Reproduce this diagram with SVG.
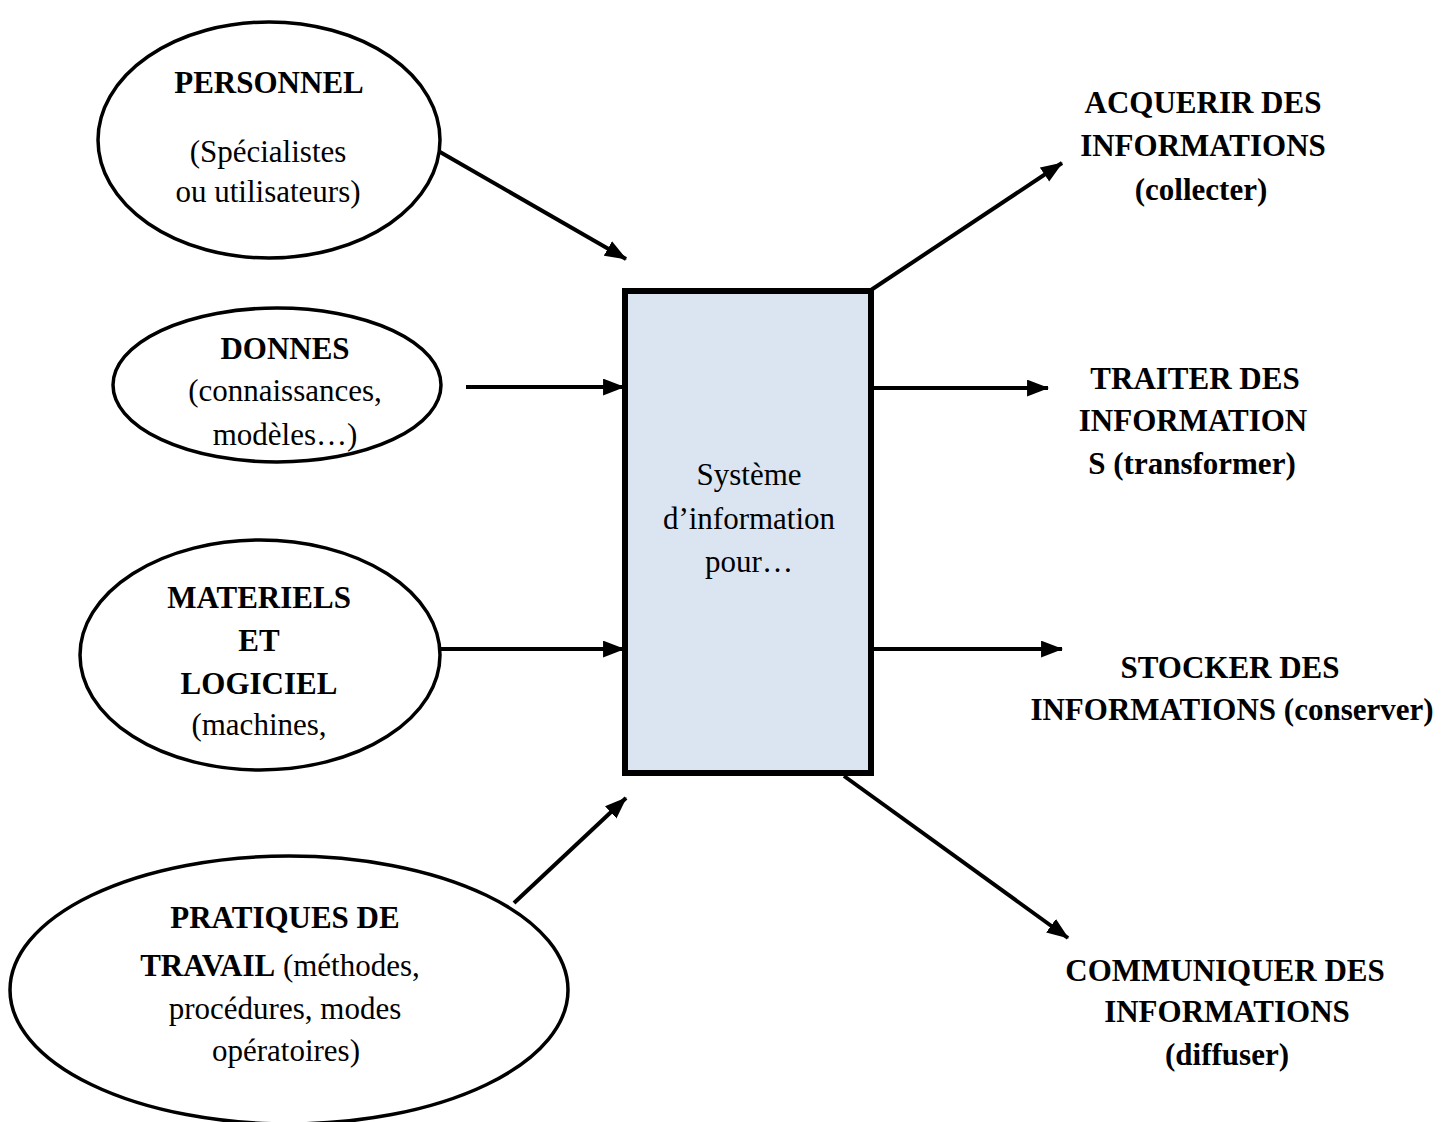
<svg xmlns="http://www.w3.org/2000/svg" width="1456" height="1122" viewBox="0 0 1456 1122">
<style>
text{font-family:"Liberation Serif","Times New Roman",serif;font-size:31px;fill:#000;text-anchor:middle}
.b{font-weight:bold}
.ell{fill:#fff;stroke:#000;stroke-width:3.5}
.box{fill:#dbe5f1;stroke:#000;stroke-width:6}
.con{stroke:#000;stroke-width:4;fill:none;marker-end:url(#ah)}
</style>
<defs>
<marker id="ah" markerUnits="userSpaceOnUse" markerWidth="22" markerHeight="17" refX="20" refY="8" orient="auto" viewBox="0 0 21 16">
<path d="M0,0 L21,8 L0,16 z" fill="#000"/>
</marker>
</defs>
<rect width="1456" height="1122" fill="#fff"/>
<g id="personnel">
<ellipse class="ell" cx="269" cy="140" rx="171" ry="118"/>
<text class="b" x="269" y="93">PERSONNEL</text>
<text x="268" y="162">(Spécialistes</text>
<text x="268" y="202">ou utilisateurs)</text>
</g>
<g id="donnes">
<ellipse class="ell" cx="277" cy="385" rx="164" ry="77"/>
<text class="b" x="285" y="359">DONNES</text>
<text x="285" y="401">(connaissances,</text>
<text x="285" y="445">modèles…)</text>
</g>
<g id="materiels">
<ellipse class="ell" cx="260" cy="655" rx="180" ry="115"/>
<text class="b" x="259" y="608">MATERIELS</text>
<text class="b" x="259" y="651">ET</text>
<text class="b" x="259" y="694">LOGICIEL</text>
<text x="259" y="735">(machines,</text>
</g>
<g id="pratiques">
<ellipse class="ell" cx="289" cy="990" rx="279" ry="134"/>
<text class="b" x="285" y="928">PRATIQUES DE</text>
<text x="280" y="976"><tspan class="b">TRAVAIL</tspan> (méthodes,</text>
<text x="285" y="1019">procédures, modes</text>
<text x="286" y="1061">opératoires)</text>
</g>
<g id="systeme">
<rect class="box" x="625" y="291" width="246" height="482"/>
<text x="749" y="485">Système</text>
<text x="749" y="529">d’information</text>
<text x="749" y="572">pour…</text>
</g>
<g id="acquerir">
<text class="b" x="1203" y="113">ACQUERIR DES</text>
<text class="b" x="1203" y="156">INFORMATIONS</text>
<text class="b" x="1201" y="200">(collecter)</text>
</g>
<g id="traiter">
<text class="b" x="1195" y="389">TRAITER DES</text>
<text class="b" x="1193" y="431">INFORMATION</text>
<text class="b" x="1192" y="474">S (transformer)</text>
</g>
<g id="stocker">
<text class="b" x="1230" y="678">STOCKER DES</text>
<text class="b" x="1232" y="720">INFORMATIONS (conserver)</text>
</g>
<g id="communiquer">
<text class="b" x="1225" y="981">COMMUNIQUER DES</text>
<text class="b" x="1227" y="1022">INFORMATIONS</text>
<text class="b" x="1227" y="1065">(diffuser)</text>
</g>
<g id="connectors">
<line class="con" x1="440" y1="152" x2="626" y2="259"/>
<line class="con" x1="466" y1="387" x2="624" y2="387"/>
<line class="con" x1="440" y1="649" x2="624" y2="649"/>
<line class="con" x1="514" y1="903" x2="626" y2="798"/>
<line class="con" x1="871" y1="290" x2="1062" y2="163"/>
<line class="con" x1="871" y1="388" x2="1048" y2="388"/>
<line class="con" x1="871" y1="649" x2="1062" y2="649"/>
<line class="con" x1="844" y1="776" x2="1068" y2="938"/>
</g>
</svg>
